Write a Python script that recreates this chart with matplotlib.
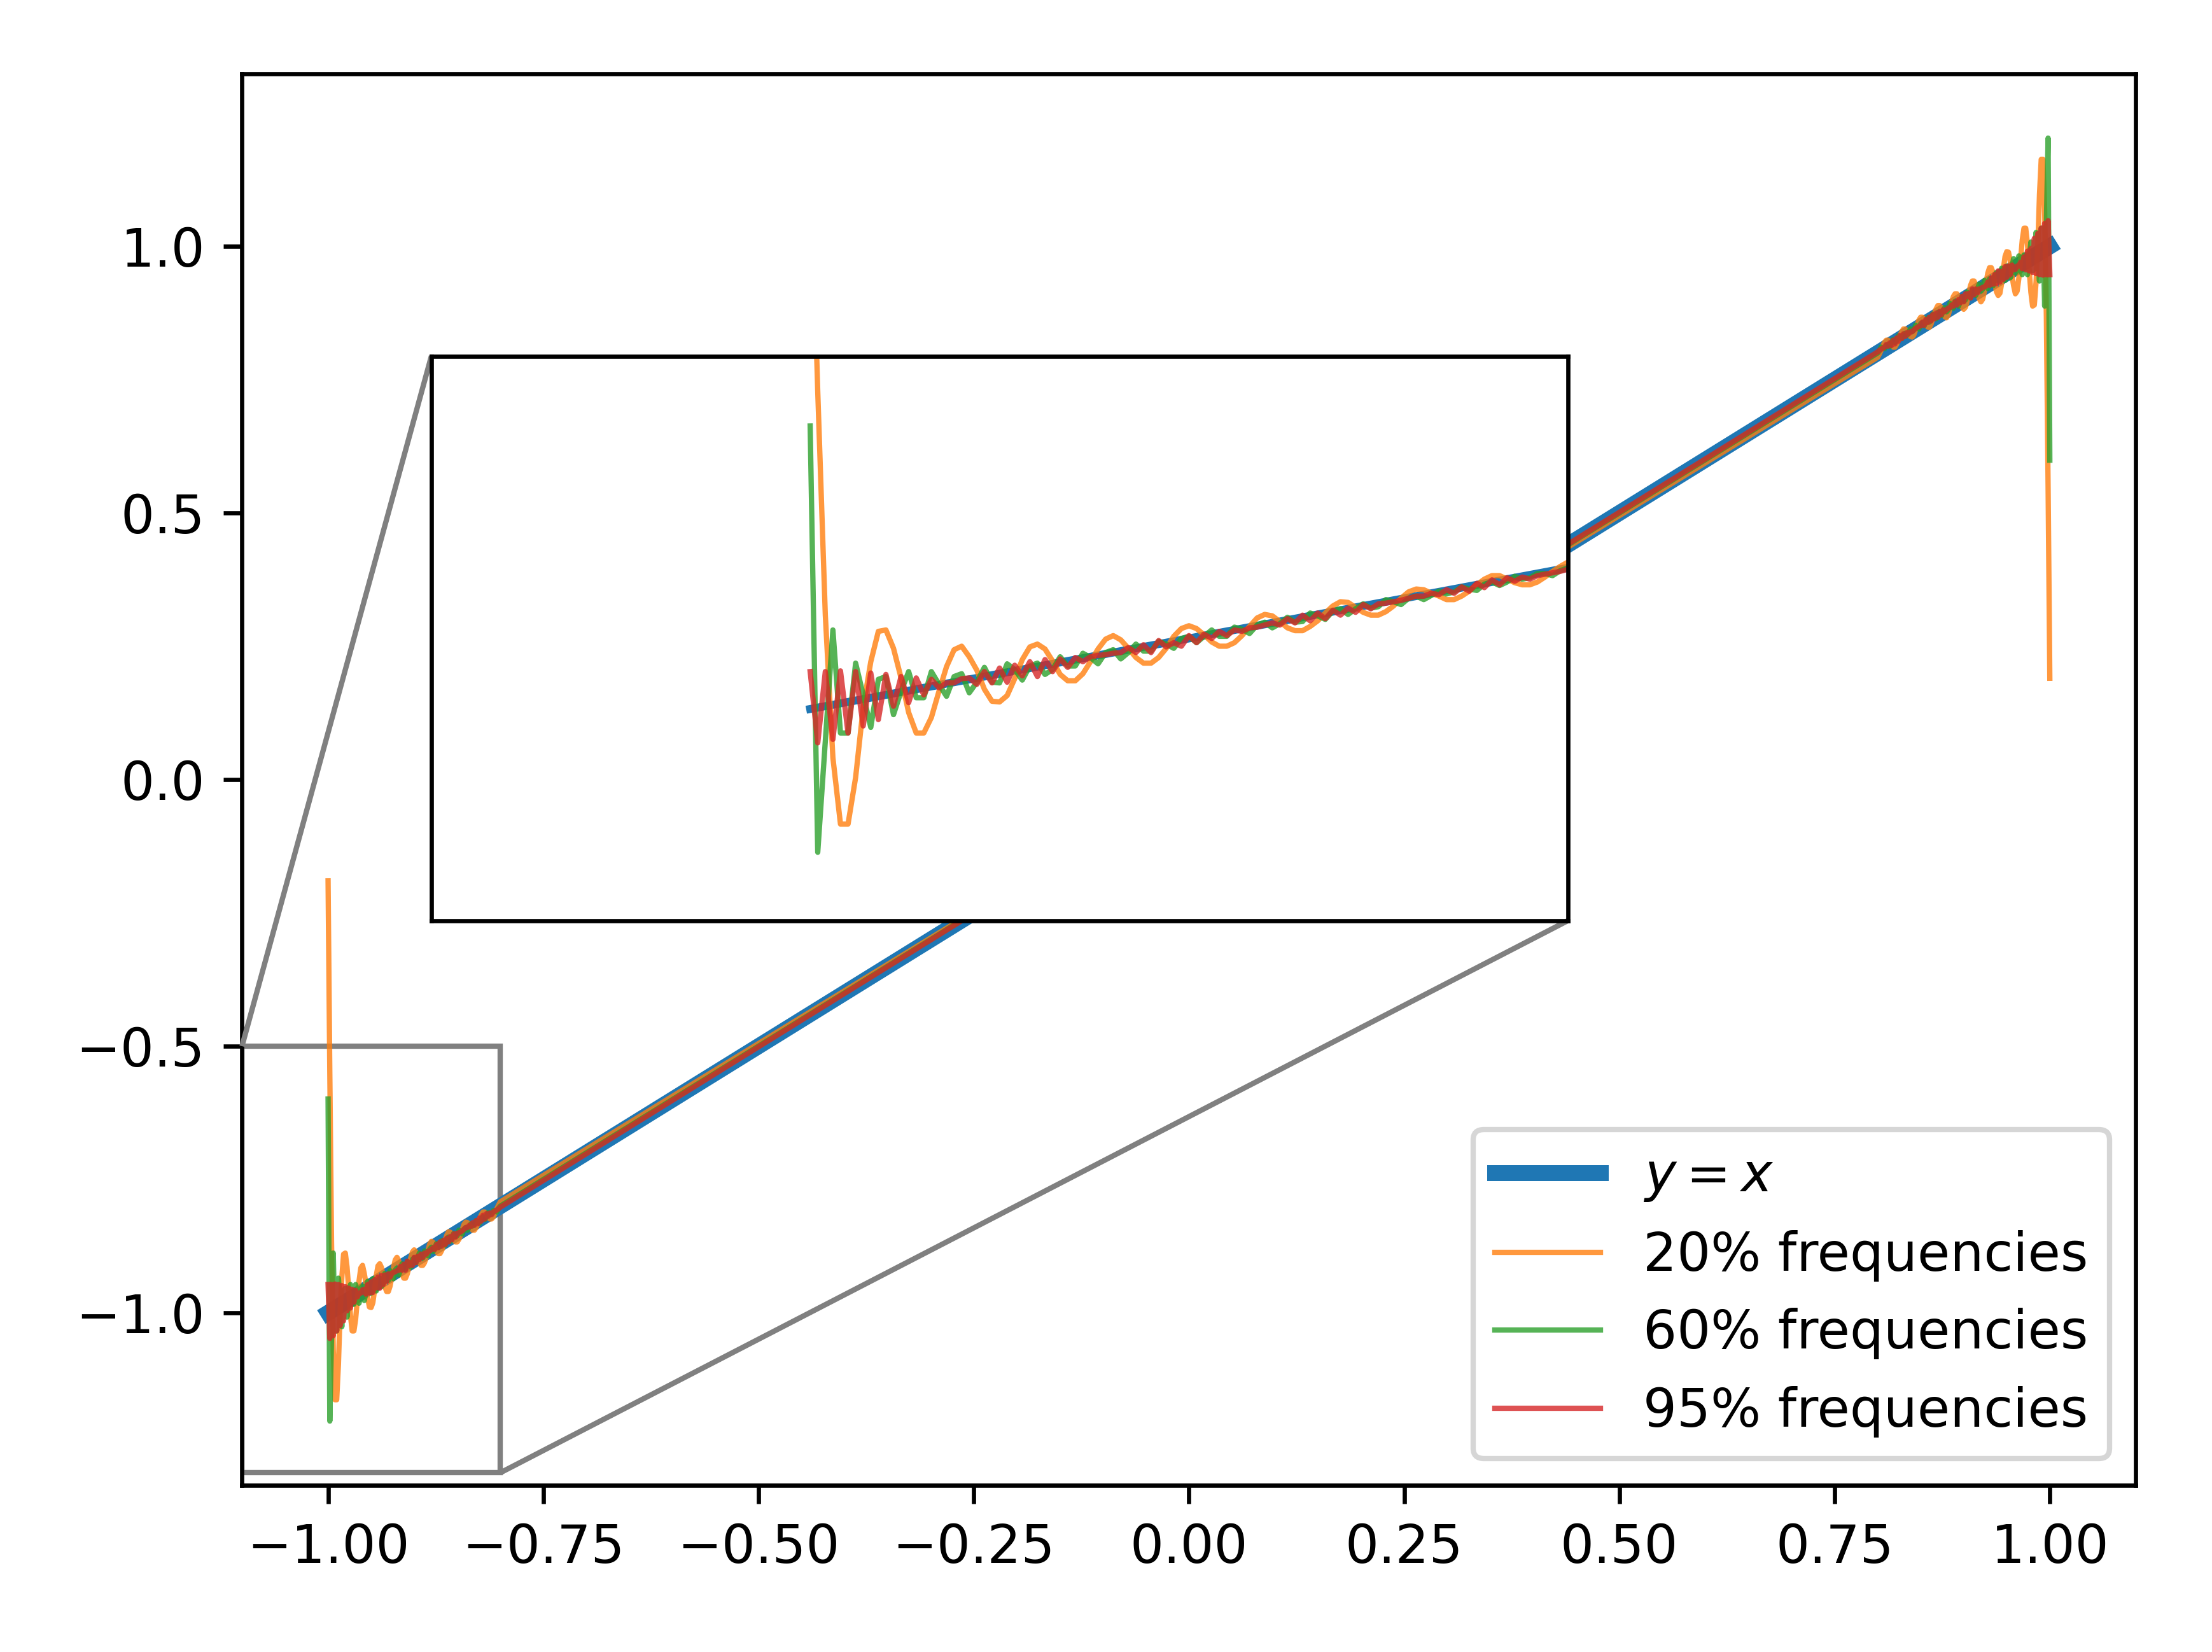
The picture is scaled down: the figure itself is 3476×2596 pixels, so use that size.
import numpy as np
import matplotlib
matplotlib.use("Agg")
import matplotlib.pyplot as plt
from mpl_toolkits.axes_grid1.inset_locator import mark_inset

# ---------------- data ----------------
# identity line
line_x = [-1.0, 1.0]
line_y = [-1.0, 1.0]

# sample positions near the two ends (sampling step 0.002)
x_left = np.linspace(-1.0, -0.8, 101)
x_right = np.linspace(1.0, 0.8, 101)

# 20% frequencies, left end (x = -1 ... -0.8)
y20_left = [
    -0.190, -0.550, -0.867, -1.069, -1.163, -1.163, -1.097, -0.998, -0.933, -0.890,
    -0.888, -0.914, -0.956, -1.005, -1.034, -1.034, -1.012, -0.975, -0.940, -0.916,
    -0.911, -0.926, -0.945, -0.972, -0.989, -0.990, -0.981, -0.957, -0.930, -0.912,
    -0.908, -0.915, -0.932, -0.951, -0.960, -0.960, -0.950, -0.933, -0.915, -0.901,
    -0.896, -0.902, -0.914, -0.927, -0.935, -0.935, -0.927, -0.914, -0.897, -0.886,
    -0.882, -0.886, -0.895, -0.905, -0.911, -0.911, -0.906, -0.896, -0.883, -0.871,
    -0.866, -0.868, -0.876, -0.885, -0.889, -0.889, -0.883, -0.875, -0.864, -0.854,
    -0.848, -0.849, -0.856, -0.863, -0.867, -0.867, -0.862, -0.854, -0.843, -0.834,
    -0.830, -0.831, -0.836, -0.840, -0.845, -0.845, -0.840, -0.833, -0.824, -0.816,
    -0.811, -0.811, -0.816, -0.821, -0.824, -0.824, -0.820, -0.813, -0.805, -0.798,
    -0.792]

# 20% frequencies, right end (x = 1 ... 0.8)
y20_right = [
    0.190, 0.550, 0.867, 1.069, 1.163, 1.163, 1.097, 0.998, 0.933, 0.890,
    0.888, 0.914, 0.956, 1.005, 1.034, 1.034, 1.012, 0.975, 0.940, 0.916,
    0.911, 0.926, 0.945, 0.972, 0.989, 0.990, 0.981, 0.957, 0.930, 0.912,
    0.908, 0.915, 0.932, 0.951, 0.960, 0.960, 0.950, 0.933, 0.915, 0.901,
    0.896, 0.902, 0.914, 0.927, 0.935, 0.935, 0.927, 0.914, 0.897, 0.886,
    0.882, 0.886, 0.895, 0.905, 0.911, 0.911, 0.906, 0.896, 0.883, 0.871,
    0.866, 0.868, 0.876, 0.885, 0.889, 0.889, 0.883, 0.875, 0.864, 0.854,
    0.848, 0.849, 0.856, 0.863, 0.867, 0.867, 0.862, 0.854, 0.843, 0.834,
    0.830, 0.831, 0.836, 0.840, 0.845, 0.845, 0.840, 0.833, 0.824, 0.816,
    0.811, 0.811, 0.816, 0.821, 0.824, 0.824, 0.820, 0.813, 0.805, 0.798,
    0.792]

# 60% frequencies, left end
y60_left = [
    -0.599, -1.203, -1.045, -0.888, -1.034, -1.034, -0.935, -0.980, -1.026, -0.958,
    -0.954, -1.008, -0.975, -0.947, -0.984, -0.984, -0.947, -0.965, -0.982, -0.954,
    -0.950, -0.977, -0.962, -0.941, -0.962, -0.963, -0.936, -0.944, -0.959, -0.939,
    -0.935, -0.951, -0.944, -0.926, -0.939, -0.939, -0.921, -0.927, -0.936, -0.920,
    -0.916, -0.929, -0.920, -0.908, -0.918, -0.918, -0.904, -0.908, -0.914, -0.900,
    -0.897, -0.906, -0.897, -0.888, -0.897, -0.897, -0.884, -0.887, -0.893, -0.881,
    -0.877, -0.885, -0.879, -0.870, -0.877, -0.876, -0.864, -0.868, -0.873, -0.861,
    -0.858, -0.866, -0.858, -0.851, -0.857, -0.855, -0.845, -0.848, -0.852, -0.843,
    -0.840, -0.845, -0.839, -0.833, -0.837, -0.834, -0.827, -0.830, -0.832, -0.823,
    -0.820, -0.825, -0.820, -0.812, -0.816, -0.814, -0.808, -0.808, -0.811, -0.804,
    -0.800]

# 60% frequencies, right end
y60_right = [
    0.599, 1.203, 1.045, 0.888, 1.034, 1.034, 0.935, 0.980, 1.026, 0.958,
    0.954, 1.008, 0.975, 0.947, 0.984, 0.984, 0.947, 0.965, 0.982, 0.954,
    0.950, 0.977, 0.962, 0.941, 0.962, 0.963, 0.936, 0.944, 0.959, 0.939,
    0.935, 0.951, 0.944, 0.926, 0.939, 0.939, 0.921, 0.927, 0.936, 0.920,
    0.916, 0.929, 0.920, 0.908, 0.918, 0.918, 0.904, 0.908, 0.914, 0.900,
    0.897, 0.906, 0.897, 0.888, 0.897, 0.897, 0.884, 0.887, 0.893, 0.881,
    0.877, 0.885, 0.879, 0.870, 0.877, 0.876, 0.864, 0.868, 0.873, 0.861,
    0.858, 0.866, 0.858, 0.851, 0.857, 0.855, 0.845, 0.848, 0.852, 0.843,
    0.840, 0.845, 0.839, 0.833, 0.837, 0.834, 0.827, 0.830, 0.832, 0.823,
    0.820, 0.825, 0.820, 0.812, 0.816, 0.814, 0.808, 0.808, 0.811, 0.804,
    0.800]

# 95% frequencies, left end
y95_left = [
    -0.947, -1.048, -0.947, -1.043, -0.946, -1.034, -0.947, -1.024, -0.949, -1.015,
    -0.951, -0.996, -0.954, -0.991, -0.956, -0.980, -0.958, -0.970, -0.963, -0.963,
    -0.957, -0.956, -0.965, -0.947, -0.963, -0.942, -0.962, -0.938, -0.953, -0.933,
    -0.954, -0.930, -0.947, -0.929, -0.941, -0.927, -0.933, -0.926, -0.924, -0.923,
    -0.921, -0.920, -0.913, -0.920, -0.909, -0.920, -0.903, -0.912, -0.906, -0.911,
    -0.896, -0.906, -0.894, -0.900, -0.890, -0.896, -0.888, -0.890, -0.885, -0.884,
    -0.881, -0.878, -0.881, -0.872, -0.878, -0.867, -0.875, -0.864, -0.872, -0.860,
    -0.867, -0.857, -0.863, -0.852, -0.858, -0.851, -0.850, -0.848, -0.846, -0.843,
    -0.840, -0.840, -0.836, -0.838, -0.831, -0.836, -0.827, -0.833, -0.822, -0.828,
    -0.817, -0.824, -0.814, -0.819, -0.813, -0.816, -0.811, -0.809, -0.807, -0.805,
    -0.802]

# 95% frequencies, right end
y95_right = [
    0.947, 1.048, 0.947, 1.043, 0.946, 1.034, 0.947, 1.024, 0.949, 1.015,
    0.951, 0.996, 0.954, 0.991, 0.956, 0.980, 0.958, 0.970, 0.963, 0.963,
    0.957, 0.956, 0.965, 0.947, 0.963, 0.942, 0.962, 0.938, 0.953, 0.933,
    0.954, 0.930, 0.947, 0.929, 0.941, 0.927, 0.933, 0.926, 0.924, 0.923,
    0.921, 0.920, 0.913, 0.920, 0.909, 0.920, 0.903, 0.912, 0.906, 0.911,
    0.896, 0.906, 0.894, 0.900, 0.890, 0.896, 0.888, 0.890, 0.885, 0.884,
    0.881, 0.878, 0.881, 0.872, 0.878, 0.867, 0.875, 0.864, 0.872, 0.860,
    0.867, 0.857, 0.863, 0.852, 0.858, 0.851, 0.850, 0.848, 0.846, 0.843,
    0.840, 0.840, 0.836, 0.838, 0.831, 0.836, 0.827, 0.833, 0.822, 0.828,
    0.817, 0.824, 0.814, 0.819, 0.813, 0.816, 0.811, 0.809, 0.807, 0.805,
    0.802]

labels = ["$y = x$", "20% frequencies", "60% frequencies", "95% frequencies"]

# ---------------- assemble series ----------------
x_all = np.concatenate([x_left, x_right[::-1]])
series = [
    np.concatenate([y20_left, y20_right[::-1]]),
    np.concatenate([y60_left, y60_right[::-1]]),
    np.concatenate([y95_left, y95_right[::-1]]),
]
colors = ["C1", "C2", "C3"]

# ---------------- figure ----------------
fig = plt.figure(figsize=(3476 / 600, 2596 / 600), dpi=600)
ax = fig.add_axes([0.1094, 0.1009, 0.8562, 0.8544])

ax.plot(line_x, line_y, color="C0", lw=3, label=labels[0])
for ys, c, lab in zip(series, colors, labels[1:]):
    ax.plot(x_all, ys, color=c, lw=1, alpha=0.8, label=lab)

ax.set_xlim(-1.1, 1.1)
ax.set_ylim(-1.3235, 1.3235)
ax.legend(loc="lower right")

# inset
axins = ax.inset_axes([0.1, 0.4, 0.6, 0.4])
axins.plot(line_x, line_y, color="C0", lw=1.5)
for ys, c in zip(series, colors):
    axins.plot(x_all, ys, color=c, lw=1, alpha=0.8)
axins.set_xlim(-1.1, -0.8)
axins.set_ylim(-1.3, -0.5)
axins.set_xticks([])
axins.set_yticks([])
mark_inset(ax, axins, loc1=2, loc2=4, fc="none", ec="0.5")

fig.savefig("out.png", dpi=600)
